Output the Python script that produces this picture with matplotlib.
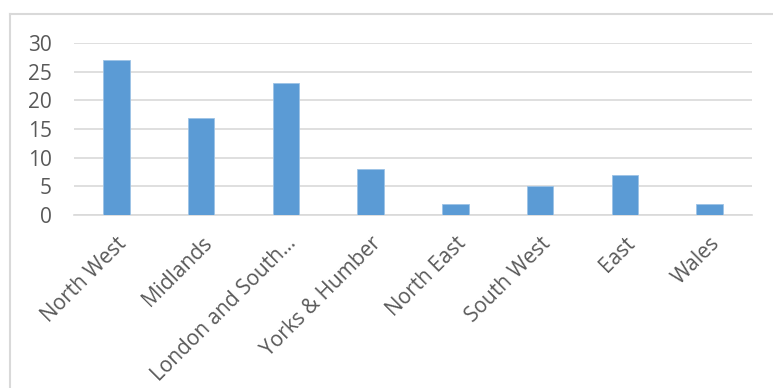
import matplotlib
matplotlib.use("Agg")
import matplotlib.pyplot as plt
from matplotlib.lines import Line2D

regions = ["North West", "Midlands", "London and South\u2026", "Yorks & Humber",
           "North East", "South West", "East", "Wales"]
counts = [27, 17, 23, 8, 2, 5, 7, 2]
y_ticks = [0, 5, 10, 15, 20, 25, 30]

plt.rcParams["font.family"] = ["Open Sans", "DejaVu Sans"]

fig = plt.figure(figsize=(7.73, 3.88), dpi=100)
ax = fig.add_axes([74 / 773, 1 - 215 / 388, (752 - 74) / 773, (215 - 43) / 388])

x = list(range(len(regions)))
ax.bar(x, counts, width=0.31, color="#5b9bd5", edgecolor="#9dc3e6", linewidth=0.6, zorder=3)

ax.set_xlim(-0.5, len(regions) - 0.5)
ax.set_ylim(0, 30)
ax.set_yticks(y_ticks)
ax.yaxis.grid(True, color="#d9d9d9", linewidth=1.2, zorder=0)
ax.set_xticks(x)
ax.set_xticklabels(regions, rotation=45, ha="right", rotation_mode="anchor")
ax.tick_params(axis="both", length=0, labelsize=15, colors="#595959")
ax.tick_params(axis="x", pad=13)
ax.tick_params(axis="y", pad=16)
for lbl in ax.get_yticklabels():
    lbl.set_horizontalalignment("right")

for side in ["top", "right", "left"]:
    ax.spines[side].set_visible(False)
ax.spines["bottom"].set_color("#d9d9d9")
ax.spines["bottom"].set_linewidth(1.2)

# chart area border (only top and left edges are in view)
fig.add_artist(Line2D([10 / 773, 1], [1 - 14 / 388, 1 - 14 / 388], color="#d9d9d9", linewidth=1.5,
                      transform=fig.transFigure))
fig.add_artist(Line2D([10 / 773, 10 / 773], [0, 1 - 14 / 388], color="#d9d9d9", linewidth=1.5,
                      transform=fig.transFigure))

fig.savefig("out.png", dpi=100, facecolor="white")
